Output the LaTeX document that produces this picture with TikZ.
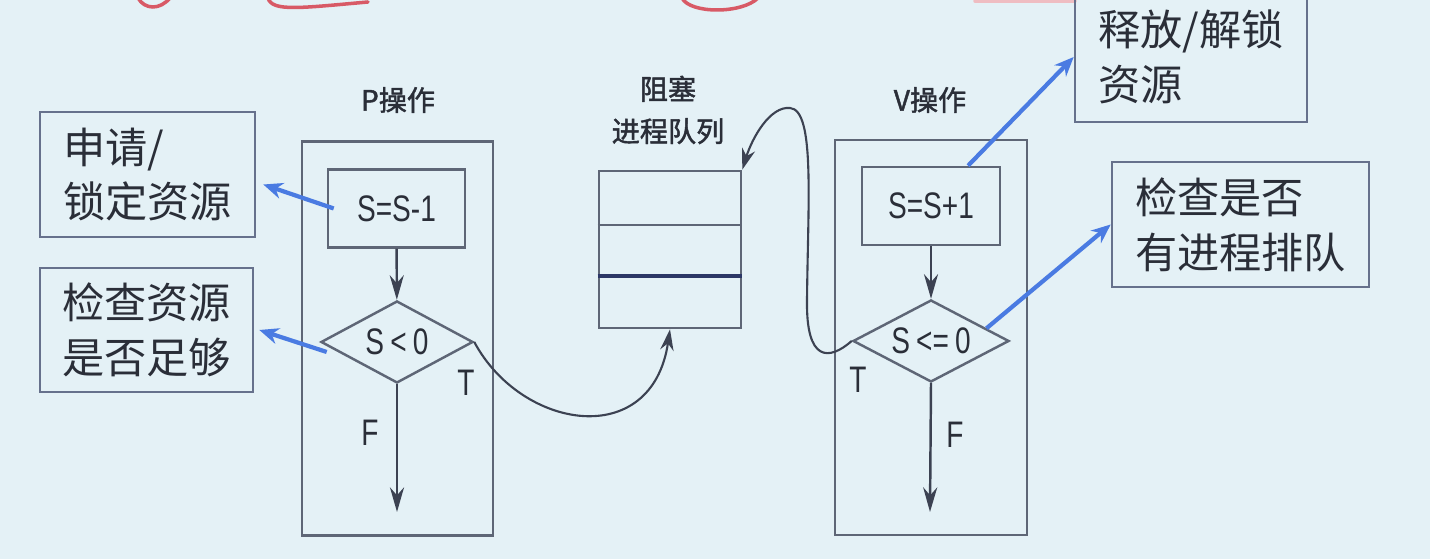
\documentclass[tikz,border=0pt]{standalone}
\usepackage{fontspec}
\setmainfont{Noto Sans CJK SC}
\newfontfamily\condsf[FakeStretch=0.76]{Liberation Sans}
\newfontfamily\labelfont[FakeBold=1.6]{Noto Sans CJK SC}
\usetikzlibrary{positioning}
\usetikzlibrary{shapes.geometric}
\usetikzlibrary{arrows.meta}
\usetikzlibrary{calc}

\definecolor{bgcol}{HTML}{E4F1F6}
\definecolor{linecol}{HTML}{5E6676}
\definecolor{flowcol}{HTML}{3C4252}
\definecolor{navycol}{HTML}{2C3766}
\definecolor{notecol}{HTML}{66718C}
\definecolor{txtcol}{HTML}{2A2E38}
\definecolor{bluecol}{HTML}{4A7BE2}
\definecolor{redcol}{HTML}{D85A66}

\tikzset{
  opbox/.style={draw=linecol,line width=.7pt,minimum width=1.91cm,minimum height=3.94cm},
  stepbox/.style={draw=linecol,line width=.7pt,minimum width=1.37cm,minimum height=.78cm,
    text=txtcol,font=\condsf\fontsize{10.5}{11}\selectfont},
  testbox/.style={diamond,draw=linecol,line width=.7pt,inner sep=0pt,aspect=1.85,
    minimum width=1.52cm,minimum height=.82cm,text=txtcol,font=\condsf\fontsize{10.5}{11}\selectfont},
  notebox/.style={draw=notecol,line width=.7pt,align=left,text=txtcol,
    font=\fontsize{12}{15.6}\selectfont},
  oplabel/.style={align=center,text=txtcol,font=\labelfont\fontsize{8}{12}\selectfont},
  tflabel/.style={text=txtcol,font=\condsf\fontsize{10.5}{11}\selectfont},
  flow/.style={draw=flowcol,line width=.7pt,-{Stealth[length=7pt,width=4pt]}},
  link/.style={draw=flowcol,line width=.6pt,-{Stealth[length=6pt,width=3.8pt]}},
  hint/.style={draw=bluecol,line width=1.2pt,-{Stealth[length=5.5pt,width=4.6pt]}},
  redmark/.style={draw=redcol,line width=1pt,line cap=round}
}

\begin{document}
\begin{tikzpicture}[x=0.01cm,y=-0.01cm]

\fill[bgcol] (0,0) rectangle (1430,559);
\useasboundingbox (0,0) rectangle (1430,559);

% red pen marks at the top
\draw[redmark] (138,-2) .. controls (145,10) and (160,10) .. (170,-2);
\draw[redmark] (268,-2) .. controls (272,12) and (300,8) .. (368,2);
\draw[redmark] (682,-2) .. controls (690,14) and (742,14) .. (758,-2);
\draw[redmark,redcol!40] (975,1) -- (1075,1);

% P operation
\node[opbox] at (397.5,338.5) (Pbox) {};
\node[oplabel] at (398,100) (Plabel) {P操作};
\node[stepbox] at (396.5,208.5) (Pstep) {S=S-1};
\node[testbox] at (397,342) (Ptest) {S\,<\,0};
\coordinate (Pend) at (397,512);
\draw[flow] (Pstep) -- (Ptest);
\draw[flow] (Ptest.south) -- (Pend);
\node[tflabel] at (370,433) (PF) {F};
\node[tflabel] at (466,383) (PT) {T};

% blocked queue
\node[oplabel] at (668,110) (Qlabel) {阻塞\\进程队列};
\node[draw=linecol,line width=.7pt,minimum width=1.42cm,minimum height=1.57cm] at (670,249.5) (queue) {};
\foreach \y/\c/\w in {225/linecol/.7pt,276/navycol/1.1pt}
  \draw[draw=\c,line width=\w] (queue.west |- 0,\y) -- (queue.east |- 0,\y);

% V operation
\node[opbox,minimum width=1.92cm,minimum height=3.95cm] at (931,337.5) (Vbox) {};
\node[oplabel] at (930,100) (Vlabel) {V操作};
\node[stepbox,minimum width=1.38cm] at (931,206) (Vstep) {S=S+1};
\node[testbox,minimum width=1.56cm] at (931,341) (Vtest) {S\,<=\,0};
\coordinate (Vend) at (930,512);
\draw[flow] (Vstep) -- (Vtest);
\draw[flow] (Vtest.south) -- (Vend);
\node[tflabel] at (955,435) (VF) {F};
\node[tflabel] at (858,380) (VT) {T};

% T branches to and from the queue
\draw[link] (Ptest.east) .. controls +(47,88) and +(-18,122) .. (queue.south);
\coordinate (Vbend) at (807,300);
\coordinate (Vtop) at (790,108);
\draw[link] (Vtest.west) .. controls +(-23,20) and +(-1,62) .. (Vbend)
  .. controls +(1,-100) and +(25,2) .. (Vtop)
  .. controls +(-20,-2) and +(10,-32) .. (queue.north east);

% notes
\node[notebox,minimum width=2.15cm,minimum height=1.25cm] at (147.5,174.5) (lock) {申请/\\锁定资源};
\node[notebox,minimum width=2.13cm,minimum height=1.24cm] at (146.5,330) (check) {检查资源\\是否足够};
\node[notebox,minimum width=2.32cm,minimum height=1.30cm] at (1191,57) (unlock) {释放/解锁\\资源};
\node[notebox,minimum width=2.57cm,minimum height=1.25cm] at (1240.5,224.5) (wake) {检查是否\\有进程排队};

\draw[hint] ([xshift=.07cm]Pstep.west) -- ([xshift=.07cm,yshift=-.1cm]lock.east);
\draw[hint] ([xshift=.07cm,yshift=-.1cm]Ptest.west) -- ([xshift=.05cm]check.east);
\draw[hint] ([xshift=.37cm]Vstep.north) -- (unlock.west);
\draw[hint] ($(Vtest.east)!.3!(Vtest.north)$) -- (wake.west);

\end{tikzpicture}
\end{document}
